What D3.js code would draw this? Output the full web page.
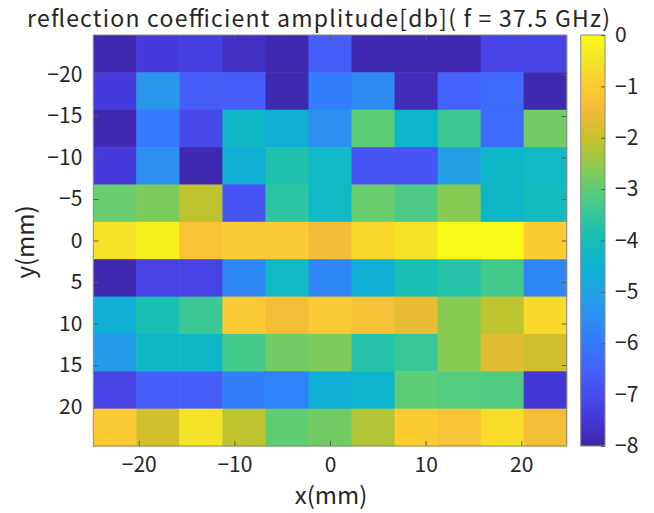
<!DOCTYPE html>
<html>
<head>
<meta charset="utf-8">
<script src="https://cdn.jsdelivr.net/npm/d3@7"></script>
<style>
  html, body { margin: 0; padding: 0; background: #fff; }
  svg { display: block; }
  text { font-family: "Noto Sans CJK JP", "Liberation Sans", sans-serif; fill: #262626; }
</style>
</head>
<body>
<svg id="chart" width="654" height="513"></svg>
<script>
// Measurement grid (mm): cell centres along x and y
const xCenters = [-22.5, -18, -13.5, -9, -4.5, 0, 4.5, 9, 13.5, 18, 22.5];
const yCenters = [-22.5, -18, -13.5, -9, -4.5, 0, 4.5, 9, 13.5, 18, 22.5];

// Reflection coefficient amplitude in dB, one array per y row (top to bottom)
const rowM225 = [-7.9, -7.4, -7.3, -7.7, -7.9, -6.6, -7.9, -7.9, -7.9, -7.2, -7.2];
const rowM18  = [-7.4, -5.3, -6.6, -6.6, -7.9, -5.9, -5.6, -7.8, -6.5, -6.3, -7.9];
const rowM135 = [-7.9, -6.0, -7.1, -4.3, -4.6, -5.5, -3.0, -4.4, -3.4, -6.3, -2.8];
const rowM9   = [-7.4, -5.5, -7.9, -4.6, -3.8, -4.2, -6.8, -6.8, -5.1, -4.3, -4.2];
const rowM45  = [-2.9, -2.7, -2.1, -6.8, -3.6, -4.2, -2.9, -3.2, -2.6, -4.3, -4.1];
const row0    = [-0.5, -0.2, -1.2, -1.0, -1.0, -1.4, -0.7, -0.5, -0.05, -0.05, -0.95];
const rowP45  = [-7.9, -7.2, -7.2, -5.7, -4.2, -5.7, -4.6, -3.9, -3.7, -3.3, -5.7];
const rowP9   = [-4.6, -3.9, -3.4, -1.0, -1.35, -1.0, -1.3, -1.6, -2.6, -2.1, -0.7];
const rowP135 = [-5.2, -4.3, -4.3, -3.3, -2.8, -2.7, -3.7, -3.45, -2.6, -1.7, -1.9];
const rowP18  = [-7.2, -6.6, -6.6, -5.9, -5.8, -4.6, -4.4, -3.0, -3.1, -3.15, -7.5];
const rowP225 = [-1.0, -1.9, -0.5, -2.1, -2.95, -2.8, -2.2, -0.95, -1.2, -0.65, -1.35];
const rows = [rowM225, rowM18, rowM135, rowM9, rowM45, row0, rowP45, rowP9, rowP135, rowP18, rowP225];

const xTicks = [-20, -10, 0, 10, 20];
const yTicks = [-20, -15, -10, -5, 0, 5, 10, 15, 20];
const cTicks = [0, -1, -2, -3, -4, -5, -6, -7, -8];
const colorLimits = [-8, 0];
const titleText = "reflection coefficient amplitude[db]( f = 37.5 GHz)";

// Parula colormap control points (r, g, b in 0..1)
const parula = [
  [0.2422, 0.1504, 0.6603], [0.2704, 0.2138, 0.8346], [0.2813, 0.2985, 0.9397],
  [0.2710, 0.3860, 0.9898], [0.2006, 0.4803, 0.9906], [0.1716, 0.5655, 0.9393],
  [0.1288, 0.6408, 0.8910], [0.0433, 0.7039, 0.8242], [0.0770, 0.7468, 0.7224],
  [0.2061, 0.7808, 0.6065], [0.3671, 0.8021, 0.4563], [0.5886, 0.7913, 0.2833],
  [0.7945, 0.7554, 0.1570], [0.9523, 0.7284, 0.2237], [0.9938, 0.7974, 0.1974],
  [0.9601, 0.8963, 0.1507], [0.9769, 0.9839, 0.0805]
];
const parulaPos = parula.map((_, i) => Math.min(i * 16, 255) / 255);
parulaPos[parulaPos.length - 1] = 1;
const parulaColors = parula.map(c => d3.rgb(c[0] * 255, c[1] * 255, c[2] * 255).formatHex());
const parulaScale = d3.scaleLinear().domain(parulaPos).range(parulaColors)
  .interpolate(d3.interpolateRgb).clamp(true);

const svg = d3.select("#chart");
const plot = { left: 93.3, right: 566.7, top: 35, bottom: 446 };
const cbar = { left: 580.7, right: 605, top: 35, bottom: 446 };
const halfStep = 2.25;

const x = d3.scaleLinear().domain([-24.75, 24.75]).range([plot.left, plot.right]);
const y = d3.scaleLinear().domain([-24.75, 24.75]).range([plot.top, plot.bottom]);
const norm = d3.scaleLinear().domain(colorLimits).range([0, 1]).clamp(true);
const color = v => parulaScale(norm(v));

// Heatmap cells
const cells = [];
rows.forEach((row, ri) => row.forEach((v, ci) => cells.push({ x: xCenters[ci], y: yCenters[ri], v })));
svg.append("g").selectAll("rect").data(cells).join("rect")
  .attr("x", d => x(d.x - halfStep))
  .attr("y", d => y(d.y - halfStep))
  .attr("width", d => x(d.x + halfStep) - x(d.x - halfStep) + 0.5)
  .attr("height", d => y(d.y + halfStep) - y(d.y - halfStep) + 0.5)
  .attr("fill", d => color(d.v));

// Axes: ticks point inward, labels outside
const tickLen = 5;
const axisColor = "#5a5a5a";
const fontSize = 21;
const minusFmt = d => d3.format("")(d).replace("-", "\u2212");

const xBottom = d3.axisBottom(x).tickValues(xTicks).tickSizeInner(-tickLen).tickSizeOuter(0)
  .tickPadding(11).tickFormat(minusFmt);
const gxb = svg.append("g").attr("transform", `translate(0,${plot.bottom})`).call(xBottom);
const xTop = d3.axisTop(x).tickValues(xTicks).tickSizeInner(-tickLen).tickSizeOuter(0).tickFormat("");
const gxt = svg.append("g").attr("transform", `translate(0,${plot.top})`).call(xTop);

const yLeft = d3.axisLeft(y).tickValues(yTicks).tickSizeInner(-tickLen).tickSizeOuter(0)
  .tickPadding(11).tickFormat(minusFmt);
const gyl = svg.append("g").attr("transform", `translate(${plot.left},0)`).call(yLeft);
const yRight = d3.axisRight(y).tickValues(yTicks).tickSizeInner(-tickLen).tickSizeOuter(0).tickFormat("");
const gyr = svg.append("g").attr("transform", `translate(${plot.right},0)`).call(yRight);

[gxb, gxt, gyl, gyr].forEach(g => {
  g.select(".domain").remove();
  g.selectAll(".tick line").attr("stroke", axisColor).attr("stroke-width", 1);
  g.selectAll(".tick text").attr("font-size", fontSize)
    .style("font-family", '"Noto Sans CJK JP", sans-serif').attr("fill", "#262626");
});

svg.append("rect")
  .attr("x", plot.left).attr("y", plot.top)
  .attr("width", plot.right - plot.left).attr("height", plot.bottom - plot.top)
  .attr("fill", "none").attr("stroke", "#8a8a8a").attr("stroke-width", 1);

// Colorbar
const defs = svg.append("defs");
const grad = defs.append("linearGradient").attr("id", "parulaGrad")
  .attr("x1", 0).attr("y1", 1).attr("x2", 0).attr("y2", 0);
d3.range(0, 1.0001, 1 / 64).forEach(t => {
  grad.append("stop").attr("offset", t).attr("stop-color", parulaScale(t));
});
const cy = d3.scaleLinear().domain(colorLimits).range([cbar.bottom, cbar.top]);
svg.append("rect")
  .attr("x", cbar.left).attr("y", cbar.top)
  .attr("width", cbar.right - cbar.left).attr("height", cbar.bottom - cbar.top)
  .attr("fill", "url(#parulaGrad)").attr("stroke", "#8a8a8a").attr("stroke-width", 1);
const cAxis = d3.axisRight(cy).tickValues(cTicks).tickSizeInner(-4).tickSizeOuter(0)
  .tickPadding(10).tickFormat(minusFmt);
const gc = svg.append("g").attr("transform", `translate(${cbar.right},0)`).call(cAxis);
gc.select(".domain").remove();
gc.selectAll(".tick line").attr("stroke", axisColor);
gc.selectAll(".tick text").attr("font-size", fontSize)
  .style("font-family", '"Noto Sans CJK JP", sans-serif').attr("fill", "#262626");

// Titles
svg.append("text").attr("x", 27).attr("y", 27)
  .attr("font-size", 23).attr("textLength", 583).attr("lengthAdjust", "spacing")
  .text(titleText);
svg.append("text").attr("x", 331).attr("y", 504).attr("text-anchor", "middle")
  .attr("font-size", 24).text("x(mm)");
svg.append("text").attr("transform", "translate(34,242) rotate(-90)")
  .attr("text-anchor", "middle").attr("font-size", 24).text("y(mm)");
</script>
</body>
</html>
